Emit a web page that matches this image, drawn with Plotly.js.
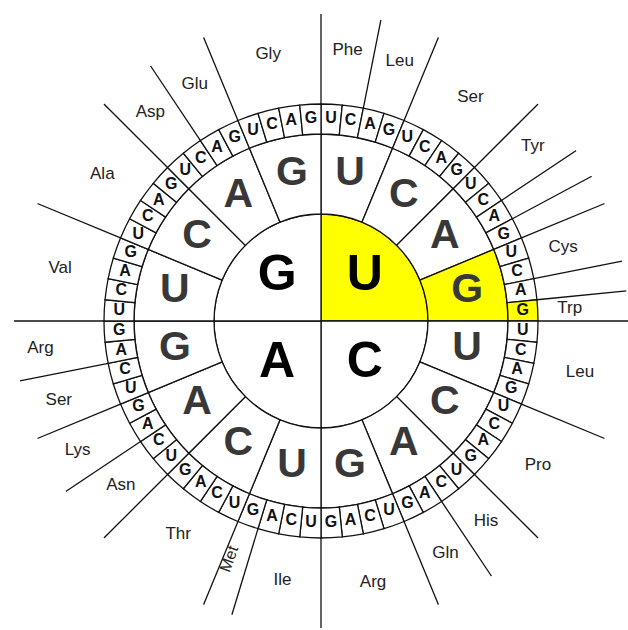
<!DOCTYPE html>
<html><head><meta charset="utf-8">
<script src="https://cdn.plot.ly/plotly-3.0.1.min.js"></script>
<style>html,body{margin:0;padding:0;background:#fff}#chart{width:628px;height:630px}</style>
</head><body><div id="chart"></div>
<script>
// ---- data ----
const firstBases  = ['U', 'C', 'A', 'G'];   // inner circle, clockwise from 12 o'clock
const secondBases = ['U', 'C', 'A', 'G'];   // middle ring
const thirdBases  = ['U', 'C', 'A', 'G'];   // outer letter ring
const aminoLabels = ['Phe','Leu','Ser','Tyr','','','Cys','','Trp',
                     'Leu','Pro','His','Gln','Arg',
                     'Ile','Met','Thr','Asn','Lys','Ser','Arg',
                     'Val','Ala','Asp','Glu','Gly'];
const aminoStart  = [0,2,4,8,10,11,12,14,15, 16,20,24,26,28, 32,35,36,40,42,44,46, 48,52,56,58,60];
const aminoCount  = [2,2,4,2,1,1,2,1,1, 4,4,2,2,4, 3,1,4,2,2,2,2, 4,4,2,2,4];
const highlightCodon = 'UGG';

// ---- geometry / style ----
const R_IN = 107, R_MID = 187, R_OUT = 217, R_END = 307;
const labelRadius = [272,271,269,274,0,0,253,0,249, 264,261,260,264,267, 263,272,257,259,276,274,282, 266,263,269,268,271];
const YELLOW = '#ffff00', LINE = '#111111';
const FONT = 'Liberation Sans, Arial, sans-serif';
const rotatedLabels = ['Met'];

const nCodon = firstBases.length * secondBases.length * thirdBases.length;
const step = 360 / nCodon;

// inner quadrants
const innerTheta = firstBases.map((b, i) => (i + 0.5) * 90);
const innerColor = firstBases.map(b => b === highlightCodon[0] ? YELLOW : '#ffffff');

// middle ring
const midTheta = [], midText = [], midColor = [];
firstBases.forEach((f, i) => secondBases.forEach((s, j) => {
  const k = i * secondBases.length + j;
  midTheta.push((k + 0.5) * 22.5);
  midText.push(s);
  midColor.push(f === highlightCodon[0] && s === highlightCodon[1] ? YELLOW : '#ffffff');
}));

// outer letter ring
const outTheta = [], outText = [], outColor = [];
firstBases.forEach((f, i) => secondBases.forEach((s, j) => thirdBases.forEach((t, m) => {
  const k = (i * secondBases.length + j) * thirdBases.length + m;
  outTheta.push((k + 0.5) * step);
  outText.push(t);
  outColor.push(f + s + t === highlightCodon ? YELLOW : '#ffffff');
})));

// amino acid dividing lines
const lineR = [], lineT = [];
aminoStart.forEach(s => { lineR.push(R_OUT, R_END, null); lineT.push(s * step, s * step, null); });

// amino acid labels
const labR = [], labT = [], labText = [];
const annotations = [];
aminoLabels.forEach((lab, i) => {
  if (!lab) return;
  const th = (aminoStart[i] + aminoCount[i] / 2) * step;
  if (rotatedLabels.includes(lab)) {
    const rr = labelRadius[i], rad = th * Math.PI / 180;
    annotations.push({
      xref: 'paper', yref: 'paper',
      x: 0.5 + rr * Math.sin(rad) / (2 * R_END),
      y: 0.5 + rr * Math.cos(rad) / (2 * R_END),
      text: lab, showarrow: false, textangle: -(270 - th),
      font: {family: FONT, size: 16, color: '#222'}
    });
  } else {
    labR.push(labelRadius[i]); labT.push(th); labText.push(lab);
  }
});

const barLine = {color: LINE, width: 1.3};
const traces = [
  {type: 'barpolar', r: innerTheta.map(() => R_IN), theta: innerTheta, width: 90,
   marker: {color: innerColor, line: barLine}, hoverinfo: 'skip'},
  {type: 'barpolar', r: midTheta.map(() => R_MID - R_IN), base: R_IN, theta: midTheta, width: 22.5,
   marker: {color: midColor, line: barLine}, hoverinfo: 'skip'},
  {type: 'barpolar', r: outTheta.map(() => R_OUT - R_MID), base: R_MID, theta: outTheta, width: step,
   marker: {color: outColor, line: barLine}, hoverinfo: 'skip'},
  {type: 'scatterpolar', mode: 'lines', r: lineR, theta: lineT,
   line: {color: LINE, width: 1.3}, hoverinfo: 'skip'},
  {type: 'scatterpolar', mode: 'text', r: innerTheta.map(() => 62), theta: innerTheta, text: firstBases,
   textfont: {family: FONT, size: 50, color: '#000', weight: 'bold'}, hoverinfo: 'skip'},
  {type: 'scatterpolar', mode: 'text', r: midTheta.map(() => 149), theta: midTheta, text: midText,
   textfont: {family: FONT, size: 41, color: '#383838', weight: 'bold'}, hoverinfo: 'skip'},
  {type: 'scatterpolar', mode: 'text', r: outTheta.map(() => 202), theta: outTheta, text: outText,
   textfont: {family: FONT, size: 16, color: '#111', weight: 'bold'}, hoverinfo: 'skip'},
  {type: 'scatterpolar', mode: 'text', r: labR, theta: labT, text: labText,
   textfont: {family: FONT, size: 17, color: '#222'}, hoverinfo: 'skip'}
];

const layout = {
  width: 628, height: 630,
  margin: {l: 14, r: 0, t: 14, b: 2},
  paper_bgcolor: '#ffffff',
  showlegend: false,
  polar: {
    domain: {x: [0, 1], y: [0, 1]},
    bgcolor: '#ffffff',
    bargap: 0,
    barmode: 'overlay',
    radialaxis: {range: [0, R_END], visible: false, showgrid: false},
    angularaxis: {rotation: 90, direction: 'clockwise', visible: false, showgrid: false, showline: false}
  },
  annotations: annotations
};

Plotly.newPlot('chart', traces, layout, {displayModeBar: false, staticPlot: true});
</script>
</body></html>
